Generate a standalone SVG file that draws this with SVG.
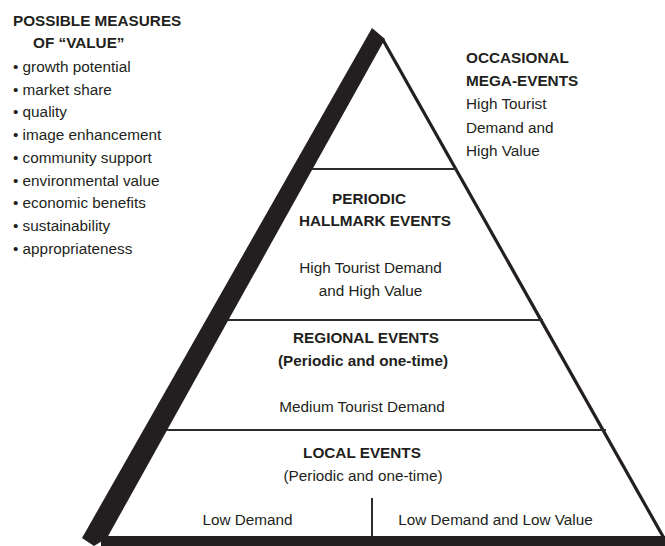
<svg xmlns="http://www.w3.org/2000/svg" width="665" height="546" viewBox="0 0 665 546">
<style>
text{font-family:"Liberation Sans",Arial,sans-serif;font-size:15.3px;fill:#231f20}
.b{font-weight:bold}
.m{text-anchor:middle}
.tier{stroke:#2b2b2b;stroke-width:2;fill:none}
</style>
<rect width="665" height="546" fill="#fff"/>
<g id="frame">
<polygon points="372,28 385,39 107,538 94,546 82,538" fill="#231f20"/>
<line x1="383" y1="40" x2="665" y2="540" stroke="#231f20" stroke-width="3.2"/>
<rect x="101" y="536" width="564" height="10" fill="#231f20"/>
<line class="tier" x1="312" y1="169" x2="456" y2="169"/>
<line class="tier" x1="228" y1="320" x2="543" y2="320"/>
<line class="tier" x1="167" y1="430" x2="606" y2="430"/>
<line class="tier" x1="372" y1="498" x2="372" y2="536"/>
</g>
<g id="measures">
<text class="b" x="13" y="26">POSSIBLE MEASURES</text>
<text class="b" x="33" y="48">OF “VALUE”</text>
<text x="13" y="72">• growth potential</text>
<text x="13" y="94.7">• market share</text>
<text x="13" y="117.4">• quality</text>
<text x="13" y="140.1">• image enhancement</text>
<text x="13" y="162.8">• community support</text>
<text x="13" y="185.5">• environmental value</text>
<text x="13" y="208.2">• economic benefits</text>
<text x="13" y="230.9">• sustainability</text>
<text x="13" y="253.6">• appropriateness</text>
</g>
<g id="mega">
<text class="b" x="466" y="63">OCCASIONAL</text>
<text class="b" x="466" y="86">MEGA-EVENTS</text>
<text x="466" y="109">High Tourist</text>
<text x="466" y="133">Demand and</text>
<text x="466" y="156">High Value</text>
</g>
<g id="hallmark">
<text class="b m" x="369" y="204">PERIODIC</text>
<text class="b m" x="375" y="226">HALLMARK EVENTS</text>
<text class="m" x="370.5" y="273">High Tourist Demand</text>
<text class="m" x="370.5" y="296">and High Value</text>
</g>
<g id="regional">
<text class="b m" x="366" y="343">REGIONAL EVENTS</text>
<text class="b m" x="363" y="366">(Periodic and one-time)</text>
<text class="m" x="362" y="412">Medium Tourist Demand</text>
</g>
<g id="local">
<text class="b m" x="362" y="458">LOCAL EVENTS</text>
<text class="m" x="363" y="481">(Periodic and one-time)</text>
<text class="m" x="247.5" y="525">Low Demand</text>
<text class="m" x="495.5" y="525">Low Demand and Low Value</text>
</g>
</svg>
